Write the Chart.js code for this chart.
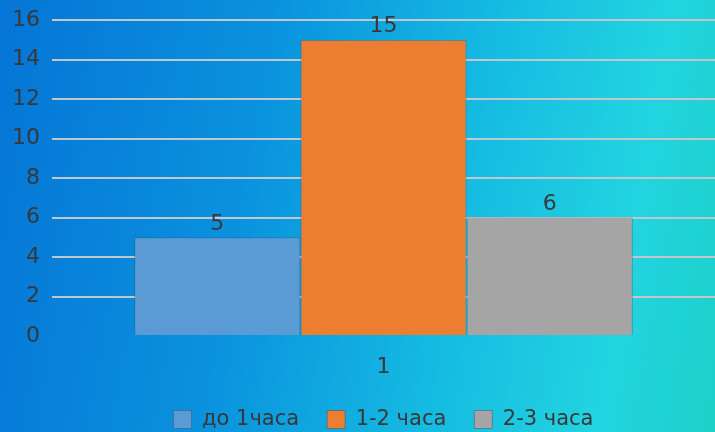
<!DOCTYPE html>
<html>
<head>
<meta charset="utf-8">
<script src="https://cdn.jsdelivr.net/npm/chart.js@4/dist/chart.umd.min.js"></script>
<style>
    html, body { margin: 0; padding: 0; }
    body {
        width: 715px; height: 432px; overflow: hidden;
        background: linear-gradient(100deg, #0575d6 0%, #0a92de 35%, #16bde2 65%, #22d4e0 85%, #1dd0c8 100%);
    }
    #wrap { position: relative; width: 715px; height: 432px; }
</style>
</head>
<body>
<div id="wrap"><canvas id="chart"></canvas></div>
<script>
var categories = ['1']
var seriesNames = ['до 1часа', '1-2 часа', '2-3 часа']
var seriesValues = [[5], [15], [6]]
var colors = ['#5b9bd5', '#ed7d31', '#a5a5a5']
var yTicks = [0, 2, 4, 6, 8, 10, 12, 14, 16]

var textColor = '#383838'
var font = 'DejaVu Sans, Verdana, sans-serif'

// Value labels above bars
var valueLabels = {
    id: 'valueLabels',
    afterDatasetsDraw: function (chart) {
        var ctx = chart.ctx
        ctx.save()
        ctx.fillStyle = textColor
        ctx.font = '22px ' + font
        ctx.textAlign = 'center'
        ctx.textBaseline = 'bottom'
        chart.data.datasets.forEach(function (ds, i) {
            chart.getDatasetMeta(i).data.forEach(function (bar, j) {
                ctx.fillText(ds.data[j], bar.x, bar.y - 2)
            })
        })
        ctx.restore()
    }
}

// Keep the legend strip short while leaving wide gaps between items
var legendHeight = {
    id: 'legendHeight',
    beforeLayout: function (chart) {
        var lg = chart.legend
        if (lg && !lg._fixedFit) {
            var fit = lg.fit
            lg.fit = function () {
                fit.call(this)
                this.height = 51
            }
            lg._fixedFit = true
        }
    }
}

var datasets = seriesNames.map(function (name, i) {
    return {
        label: name,
        data: seriesValues[i],
        backgroundColor: colors[i],
        borderColor: 'rgba(70,90,110,0.55)',
        borderWidth: 1,
        barPercentage: 1,
        categoryPercentage: 0.752
    }
})

new Chart(document.getElementById('chart'), {
    type: 'bar',
    data: { labels: categories, datasets: datasets },
    plugins: [valueLabels, legendHeight],
    options: {
        responsive: true,
        maintainAspectRatio: false,
        animation: false,
        layout: { padding: 0 },
        plugins: {
            tooltip: { enabled: false },
            legend: {
                position: 'bottom',
                fullSize: false,
                labels: {
                    color: textColor,
                    font: { family: font, size: 21 },
                    boxWidth: 18,
                    boxHeight: 18,
                    padding: 28
                }
            }
        },
        scales: {
            x: {
                grid: { display: false },
                border: { display: false },
                ticks: { color: textColor, font: { family: font, size: 22 }, padding: 10 },
                afterFit: function (axis) { axis.height = 45 }
            },
            y: {
                min: 0,
                max: 16,
                afterBuildTicks: function (axis) {
                    axis.ticks = yTicks.map(function (v) { return { value: v } })
                },
                afterFit: function (axis) { axis.paddingTop = 20 },
                border: { display: false },
                grid: {
                    drawTicks: false,
                    lineWidth: 2,
                    color: function (c) { return c.tick && c.tick.value === 0 ? 'rgba(0,0,0,0)' : '#c0c8ce' }
                },
                ticks: { color: textColor, font: { family: font, size: 22 }, padding: 12 }
            }
        }
    }
})
</script>
</body>
</html>
